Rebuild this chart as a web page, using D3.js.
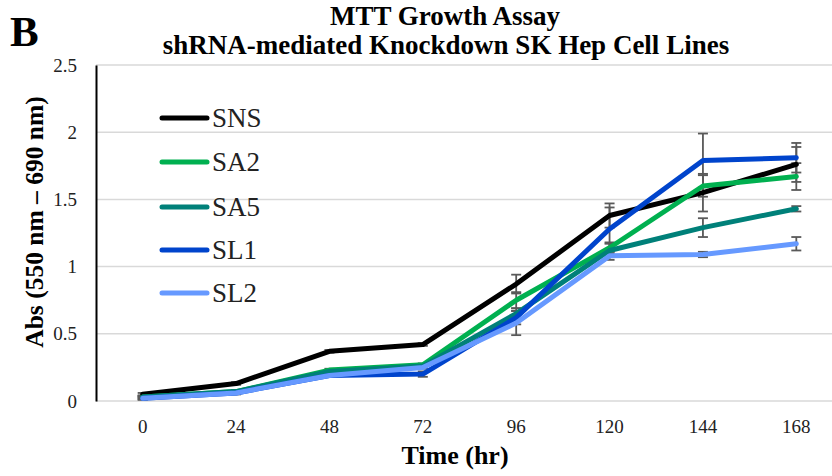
<!DOCTYPE html>
<html><head><meta charset="utf-8">
<script src="https://cdn.jsdelivr.net/npm/d3@7"></script>
<style>body{margin:0;background:#fff}svg{display:block}</style>
</head><body>
<svg id="c" width="832" height="476"></svg>
<script>
const times = ["0","24","48","72","96","120","144","168"];
const seriesNames = ["SNS","SA2","SA5","SL1","SL2"];
const seriesColors = ["#000000","#00b050","#008079","#0044cc","#6699ff"];
const SNS = [0.05, 0.13, 0.37, 0.42, 0.87, 1.38, 1.55, 1.76];
const SA2 = [0.03, 0.07, 0.23, 0.27, 0.75, 1.14, 1.60, 1.67];
const SA5 = [0.03, 0.07, 0.22, 0.26, 0.65, 1.12, 1.29, 1.43];
const SL1 = [0.02, 0.06, 0.19, 0.20, 0.62, 1.28, 1.79, 1.81];
const SL2 = [0.02, 0.06, 0.19, 0.25, 0.58, 1.08, 1.09, 1.17];
const errSNS = [0.01, 0.01, 0.01, 0.01, 0.07, 0.09, 0.14, 0.13];
const errSA2 = [0.01, 0.01, 0.01, 0.01, 0.06, 0.04, 0.08, 0.10];
const errSA5 = [0.01, 0.01, 0.01, 0.01, 0.04, 0.05, 0.07, 0.02];
const errSL1 = [0.01, 0.01, 0.01, 0.02, 0.05, 0.16, 0.20, 0.11];
const errSL2 = [0.01, 0.01, 0.01, 0.01, 0.09, 0.03, 0.02, 0.05];
const yTicks = [0, 0.5, 1, 1.5, 2, 2.5];
const yTickLabels = ["0","0.5","1","1.5","2","2.5"];

const values = [SNS, SA2, SA5, SL1, SL2];
const errors = [errSNS, errSA2, errSA5, errSL1, errSL2];

const svg = d3.select("#c");
const serif = "'Liberation Serif','Times New Roman',serif";

const x = d3.scaleBand().domain(times).range([96, 843]);
const y = d3.scaleLinear().domain([0, 2.5]).range([401, 65]);
const cx = t => x(t) + x.bandwidth() / 2;

// gridlines
svg.append("g").selectAll("line").data(yTicks).join("line")
  .attr("x1", 96).attr("x2", 843)
  .attr("y1", d => y(d)).attr("y2", d => y(d))
  .attr("stroke", "#d9d9d9").attr("stroke-width", 1.5);

// y axis
const yAxis = d3.axisLeft(y).tickValues(yTicks).tickSize(0).tickPadding(19)
  .tickFormat((d, i) => yTickLabels[i]);
const gy = svg.append("g").attr("transform", "translate(96,0)").call(yAxis);
gy.select(".domain").attr("stroke", "#000").attr("stroke-width", 2);
gy.selectAll("text").attr("font-family", serif).attr("font-size", 19).attr("fill", "#222");

// x axis
const xAxis = d3.axisBottom(x).tickSize(0).tickPadding(19);
const gx = svg.append("g").attr("transform", "translate(0,401)").call(xAxis);
gx.select(".domain").remove();
gx.selectAll("text").attr("font-family", serif).attr("font-size", 19).attr("fill", "#222");

// error bars
const eb = svg.append("g").attr("stroke", "#595959").attr("stroke-width", 1.8);
values.forEach((vals, s) => {
  vals.forEach((v, i) => {
    const e = errors[s][i];
    const px = cx(times[i]);
    eb.append("line").attr("x1", px).attr("x2", px).attr("y1", y(v - e)).attr("y2", y(v + e));
    eb.append("line").attr("x1", px - 5).attr("x2", px + 5).attr("y1", y(v - e)).attr("y2", y(v - e));
    eb.append("line").attr("x1", px - 5).attr("x2", px + 5).attr("y1", y(v + e)).attr("y2", y(v + e));
  });
});

// lines
const line = d3.line().x((d, i) => cx(times[i])).y(d => y(d));
values.forEach((vals, s) => {
  svg.append("path").datum(vals).attr("d", line)
    .attr("fill", "none").attr("stroke", seriesColors[s])
    .attr("stroke-width", 5).attr("stroke-linejoin", "round").attr("stroke-linecap", "round");
});

// legend
const legY = [118, 162, 207, 250, 293];
const lg = svg.append("g");
seriesNames.forEach((n, i) => {
  lg.append("line").attr("x1", 162).attr("x2", 207).attr("y1", legY[i]).attr("y2", legY[i])
    .attr("stroke", seriesColors[i]).attr("stroke-width", 5).attr("stroke-linecap", "round");
  lg.append("text").attr("x", 212).attr("y", legY[i]).attr("dy", "0.35em")
    .attr("font-family", serif).attr("font-size", 27).attr("fill", "#222").text(n);
});

// titles
svg.append("text").attr("x", 10).attr("y", 46).attr("font-family", serif)
  .attr("font-weight", "bold").attr("font-size", 43).text("B");
svg.append("text").attr("x", 445).attr("y", 25).attr("text-anchor", "middle")
  .attr("font-family", serif).attr("font-weight", "bold").attr("font-size", 27).text("MTT Growth Assay");
svg.append("text").attr("x", 446).attr("y", 54).attr("text-anchor", "middle")
  .attr("font-family", serif).attr("font-weight", "bold").attr("font-size", 27)
  .text("shRNA-mediated Knockdown SK Hep Cell Lines");
svg.append("text").attr("x", 455).attr("y", 464).attr("text-anchor", "middle")
  .attr("font-family", serif).attr("font-weight", "bold").attr("font-size", 26).text("Time (hr)");
svg.append("text").attr("transform", "translate(43,222) rotate(-90)").attr("text-anchor", "middle")
  .attr("font-family", serif).attr("font-weight", "bold").attr("font-size", 25.5)
  .text("Abs (550 nm – 690 nm)");
</script>
</body></html>
